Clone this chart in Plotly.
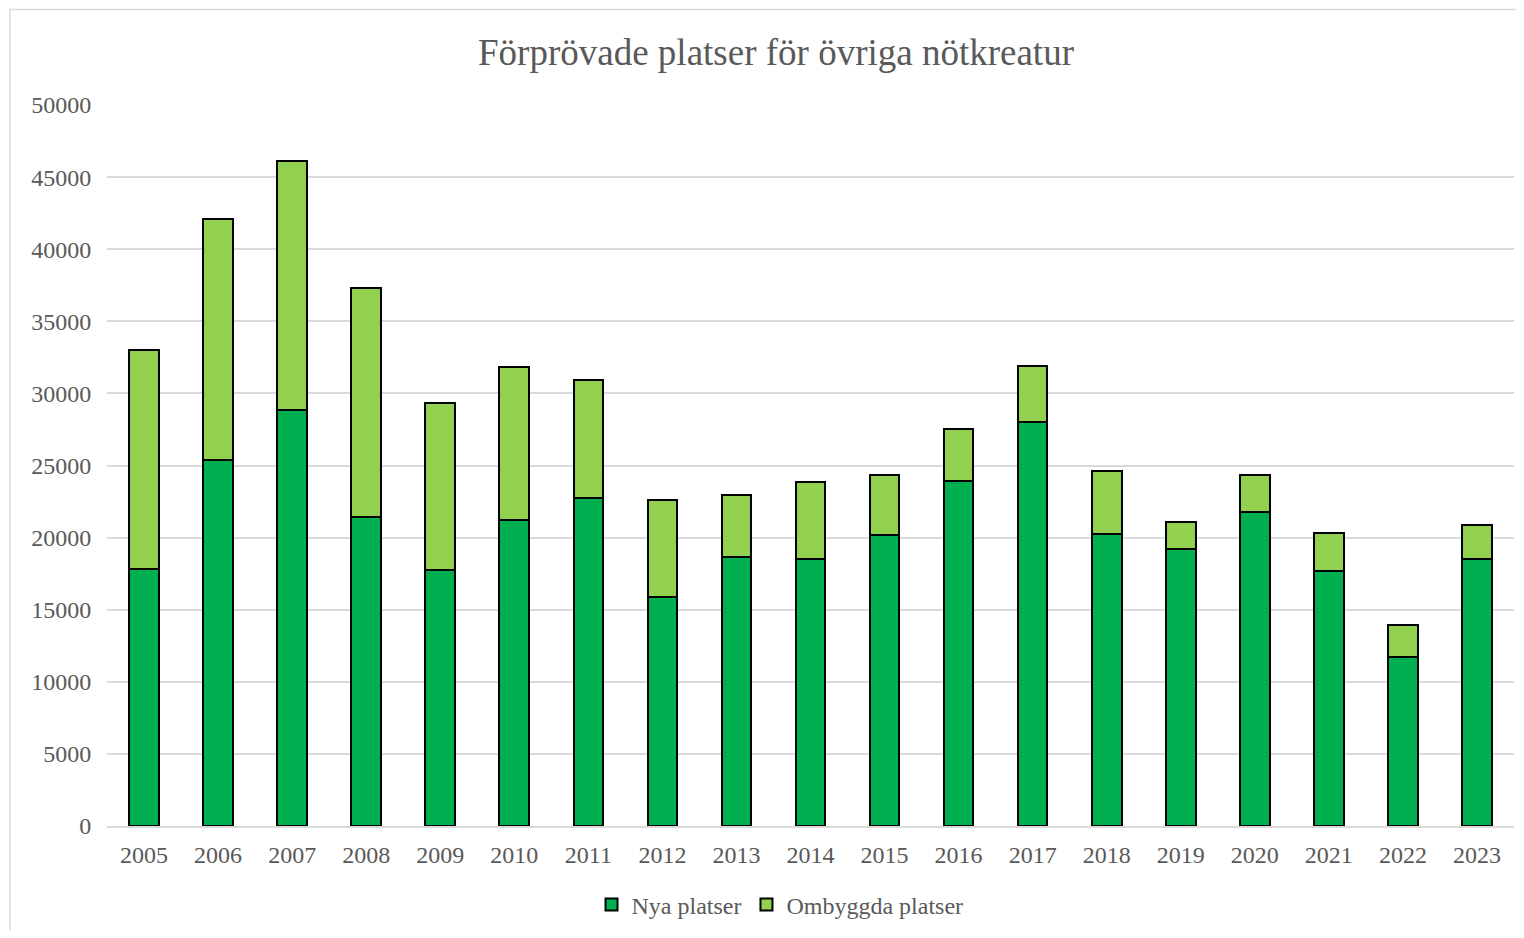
import plotly.graph_objects as go

years = [str(y) for y in range(2005, 2024)]
nya = [17800, 25400, 28850, 21450, 17750, 21250, 22750, 15900, 18650, 18550,
       20200, 23950, 28050, 20250, 19200, 21800, 17650, 11750, 18550]
totals = [33000, 42100, 46100, 37300, 29300, 31850, 30900, 22600, 22950, 23850,
          24350, 27550, 31900, 24600, 21100, 24350, 20300, 13950, 20850]
ombyggda = [t - n for t, n in zip(totals, nya)]

serif = "Liberation Serif, Times New Roman, serif"
gray = "#595959"

fig = go.Figure()
fig.add_trace(go.Bar(x=years, y=nya, name="Nya platser",
                     marker=dict(color="#00B050", line=dict(color="black", width=2))))
fig.add_trace(go.Bar(x=years, y=ombyggda, name="Ombyggda platser",
                     marker=dict(color="#92D050", line=dict(color="black", width=2))))

# page has an 8px body offset; figure sized to fit the window
OFF = 8
W, H = 1508, 922
L = 107 - OFF
T = 105 - OFF
R = W - (1514 - OFF)
B = H - (826 - OFF)
pw, ph = W - L - R, H - T - B

def px_x(x):
    return (x - OFF - L) / pw

def px_y(y):
    return ((826 - OFF) - (y - OFF)) / ph

fig.add_shape(type="rect", xref="paper", yref="paper",
              x0=px_x(10), x1=px_x(1530), y0=px_y(945), y1=px_y(9.5),
              line=dict(color="#d9d9d9", width=1.5), fillcolor="rgba(0,0,0,0)", layer="below")

fig.update_layout(
    barmode="stack",
    bargap=0.6,
    width=W, height=H,
    margin=dict(l=L, r=R, t=T, b=B),
    plot_bgcolor="white", paper_bgcolor="white",
    title=dict(text="Förprövade platser för övriga nötkreatur", x=px_x(776), xanchor="center",
               xref="paper", y=1 - (52 - OFF) / H, yanchor="middle",
               font=dict(family=serif, size=37, color=gray)),
    font=dict(family=serif, size=24, color=gray),
    xaxis=dict(showgrid=False, showline=True, linecolor="#d9d9d9", linewidth=1.5,
               ticks="outside", ticklen=6, tickcolor="white",
               tickfont=dict(family=serif, size=24, color=gray)),
    yaxis=dict(range=[0, 50000], dtick=5000, showgrid=True, gridcolor="#d9d9d9", gridwidth=1.5,
               zeroline=False, showline=False, ticks="outside", ticklen=10, tickcolor="white",
               tickformat="d", tickfont=dict(family=serif, size=24, color=gray)),
    legend=dict(orientation="h", x=px_x(780), xanchor="center", y=px_y(905), yanchor="middle",
                font=dict(family=serif, size=24, color=gray), traceorder="normal",
                itemwidth=30, tracegroupgap=0),
    showlegend=True,
)

fig.write_html("out.html")
